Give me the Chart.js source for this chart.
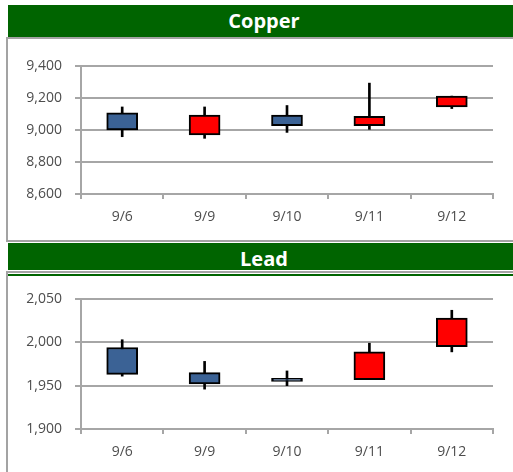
<!DOCTYPE html>
<html>
<head>
<meta charset="utf-8">
<script src="https://cdn.jsdelivr.net/npm/chart.js@4.4.1/dist/chart.umd.min.js"></script>
<style>
  html, body { margin: 0; padding: 0; background: #fff; width: 513px; height: 472px; overflow: hidden; position: relative; }
  .hdr { position: absolute; left: 8px; width: 512px; background: #006400; color: #fff;
         font-family: "Open Sans", "Noto Sans", sans-serif; font-weight: bold; text-align: center; }
  .box { position: absolute; left: 6px; width: 520px; border: 2px solid #a3a3a3; background: #fff; box-sizing: border-box; }
  canvas { position: absolute; }
</style>
</head>
<body>
<div class="hdr" style="top:5px;height:32px;line-height:32px;font-size:20px;">Copper</div>
<div class="box" style="top:37px;height:205px;"></div>
<canvas id="c1" width="505" height="202" style="left:8px;top:39px;width:505px;height:202px;"></canvas>

<div class="hdr" style="top:243px;height:27px;line-height:31px;font-size:20px;">Lead</div>
<div class="box" style="top:271px;height:210px;"></div>
<div style="position:absolute;left:8px;top:274px;width:512px;height:2px;background:#006400;"></div>
<canvas id="c2" width="505" height="196" style="left:8px;top:276px;width:505px;height:196px;"></canvas>

<script>
// ---- data ----
const categories = ['9/6', '9/9', '9/10', '9/11', '9/12'];

const copperOpen  = [9000, 9093, 9027, 9085, 9212];
const copperHigh  = [9144, 9144, 9153, 9293, 9212];
const copperLow   = [8958, 8948, 8985, 9004, 9134];
const copperClose = [9107, 8969, 9093, 9027, 9144];
const copperTicks = [8600, 8800, 9000, 9200, 9400];

const leadOpen  = [1963, 1952, 1954.8, 1989, 2028];
const leadHigh  = [2003, 1978, 1967, 1999, 2037];
const leadLow   = [1961, 1946, 1950, 1957, 1989];
const leadClose = [1994, 1965, 1958.6, 1957, 1995];
const leadTicks = [1900, 1950, 2000, 2050];

const UP_COLOR = '#3b6295';
const DOWN_COLOR = '#ff0000';
const GRID = '#a6a6a6';
const TICK_FONT = { family: '"Open Sans", "Noto Sans", sans-serif', size: 14 };

function makeCandle(id, open, high, low, close, ticks, padTop, padBottom) {
  const bodies = open.map((o, i) => [o, close[i]]);
  const wicks = low.map((l, i) => [l, high[i]]);
  const colors = open.map((o, i) => close[i] >= o ? UP_COLOR : DOWN_COLOR);
  const tmin = ticks[0], tmax = ticks[ticks.length - 1];
  const step = ticks[1] - ticks[0];
  return new Chart(document.getElementById(id), {
    type: 'bar',
    data: {
      labels: categories,
      datasets: [
        { label: 'body', data: bodies, backgroundColor: colors, borderColor: '#000', borderWidth: 2,
          borderSkipped: false, barThickness: 31, grouped: false, order: 1 },
        { label: 'wick', data: wicks, backgroundColor: '#000', borderWidth: 0,
          barThickness: 2, grouped: false, order: 2 }
      ]
    },
    options: {
      responsive: false,
      animation: false,
      devicePixelRatio: 1,
      layout: { padding: { left: 0, right: 20, top: padTop, bottom: padBottom } },
      plugins: { legend: { display: false }, tooltip: { enabled: false }, title: { display: false } },
      scales: {
        x: {
          offset: true,
          grid: { offset: true, drawOnChartArea: false, drawTicks: true, tickLength: 5, color: GRID, lineWidth: 2 },
          border: { color: GRID, width: 2 },
          ticks: { color: '#4d4d4d', font: TICK_FONT, padding: 10 },
          afterFit: s => { s.height = 40; }
        },
        y: {
          min: tmin, max: tmax,
          grid: { color: GRID, lineWidth: 2, tickLength: 6 },
          border: { color: GRID, width: 2 },
          ticks: { stepSize: step, color: '#4d4d4d', font: TICK_FONT, padding: 13,
                   callback: v => v.toLocaleString('en-US') },
          afterFit: s => { s.width = 73; }
        }
      }
    }
  });
}

makeCandle('c1', copperOpen, copperHigh, copperLow, copperClose, copperTicks, 27, 7);
makeCandle('c2', leadOpen, leadHigh, leadLow, leadClose, leadTicks, 23, 3);
</script>
</body>
</html>
